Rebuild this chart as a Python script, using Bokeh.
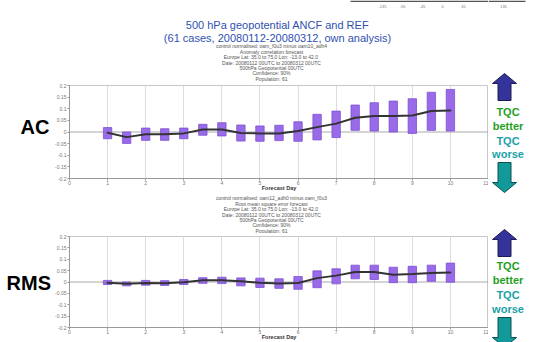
from bokeh.plotting import figure
from bokeh.layouts import row, column
from bokeh.models import Range1d, FixedTicker, Span, ColumnDataSource
from bokeh.embed import file_html
from bokeh.resources import INLINE
from bokeh.core.properties import value

# ---------------- data ----------------
days = [1, 1.5, 2, 2.5, 3, 3.5, 4, 4.5, 5, 5.5, 6, 6.5, 7, 7.5, 8, 8.5, 9, 9.5, 10]

ac_mean = [-0.003, -0.022, -0.010, -0.010, -0.006, 0.011, 0.011, -0.004, -0.006, -0.006,
           0.004, 0.021, 0.036, 0.061, 0.069, 0.069, 0.071, 0.090, 0.093]
ac_high = [0.019, 0.000, 0.017, 0.014, 0.017, 0.033, 0.040, 0.030, 0.026, 0.029,
           0.044, 0.076, 0.090, 0.116, 0.126, 0.133, 0.143, 0.171, 0.183]
ac_low = [-0.029, -0.049, -0.036, -0.036, -0.029, -0.014, -0.017, -0.039, -0.040, -0.037,
          -0.040, -0.034, -0.024, 0.007, 0.004, 0.000, -0.006, 0.007, 0.004]

rms_mean = [-0.003, -0.008, -0.004, -0.006, -0.001, 0.008, 0.008, 0.003, -0.003, -0.007,
            -0.004, 0.017, 0.028, 0.044, 0.044, 0.032, 0.035, 0.040, 0.042]
rms_high = [0.007, 0.000, 0.007, 0.006, 0.011, 0.019, 0.021, 0.018, 0.017, 0.014,
            0.024, 0.049, 0.058, 0.074, 0.074, 0.065, 0.069, 0.074, 0.083]
rms_low = [-0.011, -0.017, -0.014, -0.015, -0.011, -0.006, -0.007, -0.017, -0.024, -0.028,
           -0.032, -0.025, -0.008, 0.014, 0.011, -0.003, -0.003, 0.003, -0.001]

y_ticks = [-0.2, -0.15, -0.1, -0.05, 0, 0.05, 0.1, 0.15, 0.2]
y_tick_labels = ["-0.2", "-0.15", "-0.1", "-0.05", "0", "0.05", "0.1", "0.15", "0.2"]
x_ticks = [0, 1, 2, 3, 4, 5, 6, 7, 8, 9, 10, 11]

# fragment of a longitude scale cut off at the top edge
lon_labels = ["-135", "-90", "-45", "0", "45", "90", "135"]

title_lines = ["500 hPa geopotential ANCF and REF",
               "(61 cases, 20080112-20080312, own analysis)"]
ac_info = ["control normalised: oam_f0u3 minus oam10_adh4",
           "Anomaly correlation forecast",
           "Europe  Lat: 35.0 to 75.0 Lon: -13.0 to 42.0",
           "Date: 20080112 00UTC to 20080312 00UTC",
           "500hPa Geopotential 00UTC",
           "Confidence: 90%",
           "Population: 61"]
rms_info = ["control normalised: oam12_adh0 minus oam_f0u3",
            "Root mean square error forecast",
            "Europe  Lat: 35.0 to 75.0 Lon: -13.0 to 42.0",
            "Date: 20080112 00UTC to 20080312 00UTC",
            "500hPa Geopotential 00UTC",
            "Confidence: 90%",
            "Population: 61"]
xlabel = "Forecast Day"
panel_names = ["AC", "RMS"]
side_texts = ["TQC", "better", "TQC", "worse"]

FONT = "Liberation Sans"
BOX_FILL = "#9a6be8"
BOX_LINE = "#7b50d4"
INFO_Y = [0, 6, 11.5, 17, 22, 27.5, 33]  # line offsets of the small info block
LON_X = [382, 402, 422, 442, 463, 483, 503]


def deco_fig(x0, x1, y0, y1):
    """Decoration figure whose data units are page pixels."""
    f = figure(width=x1 - x0, height=y1 - y0, x_range=Range1d(x0, x1),
               y_range=Range1d(y1, y0), toolbar_location=None, output_backend="svg",
               min_border=0, title=None)
    f.axis.visible = False
    f.grid.visible = False
    f.outline_line_color = None
    f.background_fill_color = "white"
    f.border_fill_color = "white"
    return f


def info_block(f, lines, y_first):
    f.text(x=[271] * len(lines), y=[y_first + d for d in INFO_Y], text=lines,
           text_font=value(FONT), text_font_size="5px", text_color="#555555",
           text_align="center", text_baseline="middle")


def lon_fragment(f, x0, x1):
    f.line(x=[max(350, x0), min(525, x1)], y=[0.8, 0.8], line_color="#555555",
           line_width=1.5)
    sel = [(x, t) for x, t in zip(LON_X, lon_labels) if x0 + 6 <= x <= x1 - 6]
    if sel:
        f.text(x=[s[0] for s in sel], y=[5.5] * len(sel), text=[s[1] for s in sel],
               text_font=value(FONT), text_font_size="4px", text_color="#777777",
               text_align="center", text_baseline="middle")


# ---------------- header (page px x 0..488, y 0..82) ----------------
header = deco_fig(0, 488, 0, 82)
header.text(x=[277, 277], y=[24, 37], text=title_lines, text_font=value(FONT),
            text_font_size="11px", text_color="#2f50b2", text_align="center",
            text_baseline="middle")
info_block(header, ac_info, 45)
lon_fragment(header, 0, 488)


# ---------------- chart builder ----------------
def chart(h, top_b, bot_b, mean, low, high):
    p = figure(width=436, height=h, x_range=Range1d(0, 11), y_range=Range1d(-0.2, 0.2),
               toolbar_location=None, output_backend="svg", title=None,
               min_border_left=15, min_border_right=0,
               min_border_top=top_b, min_border_bottom=bot_b)
    p.outline_line_color = "#c8c8c8"
    p.background_fill_color = "white"
    p.border_fill_color = "white"
    p.xaxis.ticker = FixedTicker(ticks=x_ticks)
    p.yaxis.ticker = FixedTicker(ticks=y_ticks)
    p.yaxis.major_label_overrides = {t: l for t, l in zip(y_ticks, y_tick_labels)}
    for ax in (p.xaxis[0], p.yaxis[0]):
        ax.axis_line_color = "#999999"
        ax.major_tick_line_color = "#999999"
        ax.minor_tick_line_color = None
        ax.major_tick_in = 0
        ax.major_tick_out = 2
        ax.major_label_text_font = FONT
        ax.major_label_text_font_size = "5px"
        ax.major_label_text_color = "#777777"
    p.yaxis.major_label_standoff = 1
    p.xaxis.major_label_standoff = 0
    p.xaxis.axis_label = xlabel
    p.xaxis.axis_label_text_font = FONT
    p.xaxis.axis_label_text_font_size = "5.5px"
    p.xaxis.axis_label_text_font_style = "bold"
    p.xaxis.axis_label_text_color = "#333333"
    p.xaxis.axis_label_standoff = -3
    p.xgrid.ticker = FixedTicker(ticks=x_ticks)
    p.xgrid.grid_line_color = "#dddddd"
    p.ygrid.visible = False
    p.add_layout(Span(location=0, dimension="width", line_color="#aaaaaa", line_width=1,
                      level="underlay"))
    src = ColumnDataSource(dict(x=days, m=mean, lo=low, hi=high))
    p.vbar(x="x", width=0.22, top="hi", bottom="lo", source=src,
           fill_color=BOX_FILL, line_color=BOX_LINE, line_width=0.8)
    p.line(x="x", y="m", source=src, line_color="#333333", line_width=2,
           line_join="round", line_cap="round")
    return p


# top chart: page y 82..193 (frame 85..180)
top = chart(111, 3, 13, ac_mean, ac_low, ac_high)
left_top = deco_fig(0, 52, 82, 193)
left_top.text(x=[34.5], y=[131], text=[panel_names[0]], text_font=value(FONT),
              text_font_size="20px", text_font_style="bold", text_color="black",
              text_align="center", text_baseline="middle")

# middle info block: page y 193..233
mid = deco_fig(0, 488, 193, 233)
info_block(mid, rms_info, 197)

# bottom chart: page y 233..342 (frame 236..331)
bottom = chart(109, 3, 11, rms_mean, rms_low, rms_high)
left_bot = deco_fig(0, 52, 233, 342)
left_bot.text(x=[50.5], y=[289], text=[panel_names[1]], text_font=value(FONT),
              text_font_size="20px", text_font_style="bold", text_color="black",
              text_align="right", text_baseline="middle")

# ---------------- right side arrows (page px x 488..538, y 0..342) ----------------
side = deco_fig(488, 538, 0, 342)
lon_fragment(side, 488, 538)
cx = 504
hw, sw = 12, 6.5


def up_arrow(tip, base, bottom_y):
    return ([cx, cx + hw, cx + sw, cx + sw, cx - sw, cx - sw, cx - hw],
            [tip, base, base, bottom_y, bottom_y, base, base])


def down_arrow(top_y, base, tip):
    return ([cx - sw, cx + sw, cx + sw, cx + hw, cx, cx - hw, cx - sw],
            [top_y, top_y, base, base, tip, base, base])


ups = [up_arrow(73, 83, 100), up_arrow(229, 239, 256)]
downs = [down_arrow(162, 182, 192), down_arrow(317, 337, 347)]
side.patches(xs=[u[0] for u in ups], ys=[u[1] for u in ups], fill_color="#333399",
             line_color="#1c1c55", line_width=1)
side.patches(xs=[d[0] for d in downs], ys=[d[1] for d in downs], fill_color="#129a9a",
             line_color="#0b4f4f", line_width=1)
side.text(x=[507.5] * 8,
          y=[111, 125, 140, 153.5, 265, 279, 294, 308],
          text=side_texts * 2, text_font=value(FONT), text_font_size="11px",
          text_font_style="bold",
          text_color=["#1fa01f", "#1fa01f", "#1a9fa6", "#1a9fa6"] * 2,
          text_align="center", text_baseline="middle")

middle = column(header,
                row(left_top, top, spacing=0),
                mid,
                row(left_bot, bottom, spacing=0),
                spacing=0)
layout = row(middle, side, spacing=0)

with open("out.html", "w") as fh:
    fh.write(file_html(layout, INLINE))
